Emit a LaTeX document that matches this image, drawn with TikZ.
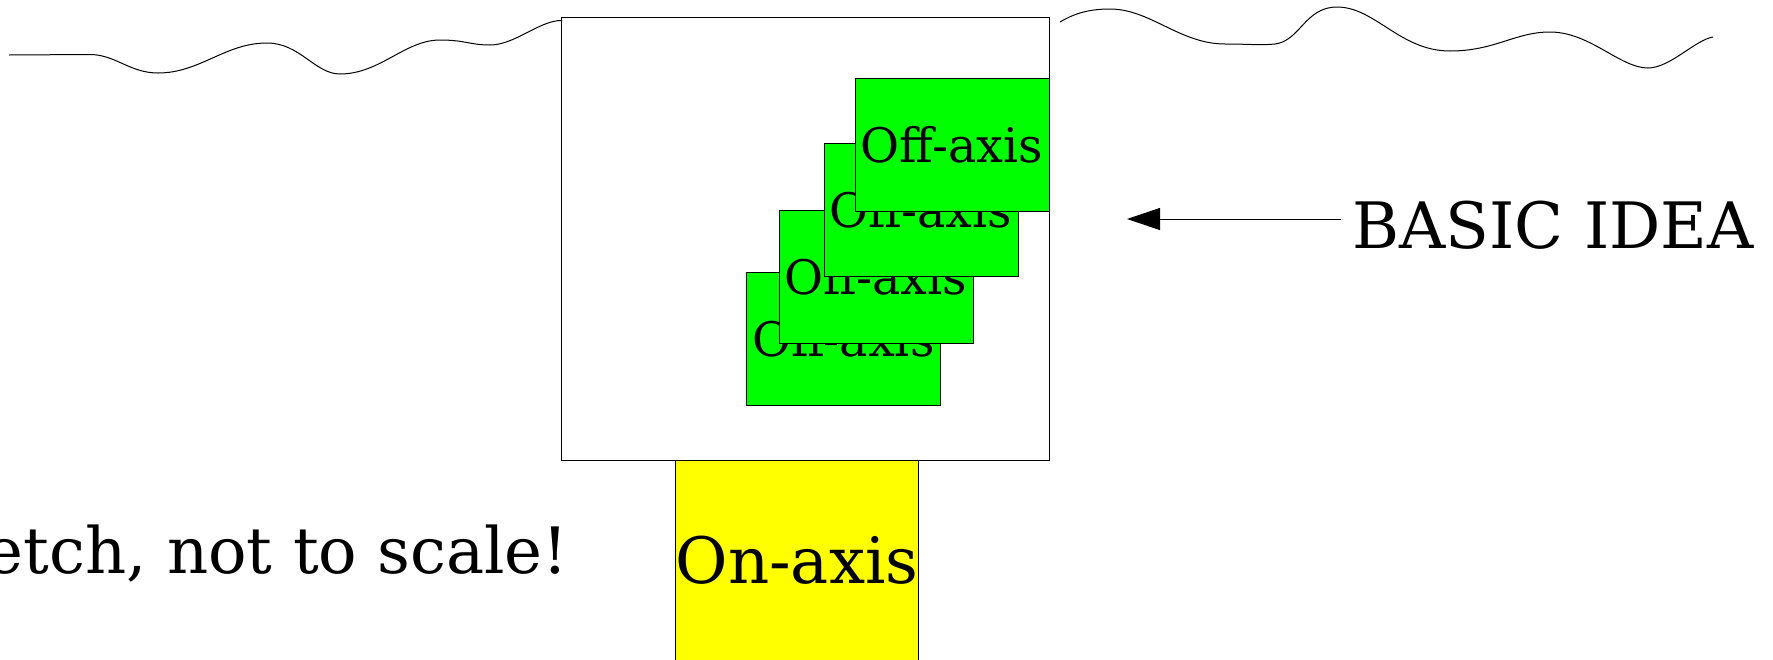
\documentclass[tikz,border=0pt]{standalone}
\usepackage{fontspec}
\setmainfont{DejaVu Serif}
\usetikzlibrary{arrows.meta}
\definecolor{boxgreen}{RGB}{0,255,0}
\definecolor{boxyellow}{RGB}{255,255,0}
\begin{document}
\begin{tikzpicture}[x=0.5pt,y=-0.5pt,
  frame/.style={draw=black, line width=0.5pt},
  greenbox/.style={frame, fill=boxgreen, minimum width=97pt, minimum height=66.5pt, inner sep=0pt,
    font=\fontsize{23.8pt}{28pt}\selectfont},
  bigtext/.style={inner sep=0pt, font=\fontsize{32pt}{38pt}\selectfont},
  wave/.style={draw=black, line width=0.5pt},
  pointer/.style={draw=black, line width=0.5pt, -{Triangle[length=16.5pt,width=11pt]}}]
\useasboundingbox (0,0) rectangle (1773,659);
\fill[white] (0,0) rectangle (1773,659);
\begin{scope}
\clip (0,0) rectangle (1773,659);
% waves
\draw[wave] (9,55) -- (90,54.5)
  .. controls (115,54.5) and (130,73) .. (158,73)
  .. controls (200,73) and (225,43) .. (267,43)
  .. controls (300,43) and (315,74) .. (340,74)
  .. controls (380,74) and (405,40) .. (440,40)
  .. controls (465,40) and (470,45) .. (490,45)
  .. controls (515,45) and (540,20) .. (562,20.5);
\draw[wave] (1060,22)
  .. controls (1075,13) and (1090,9) .. (1110,9)
  .. controls (1150,9) and (1180,44) .. (1225,44)
  .. controls (1250,44) and (1260,45.5) .. (1275,44)
  .. controls (1300,41) and (1305,7) .. (1337,7)
  .. controls (1375,7) and (1400,51) .. (1450,51)
  .. controls (1495,51) and (1515,32) .. (1550,32)
  .. controls (1590,32) and (1620,68) .. (1648,68)
  .. controls (1670,68) and (1695,40) .. (1713,37);
% main box
\node[frame, minimum width=244pt, minimum height=221.5pt, inner sep=0pt] (outer) at (805,238.5) {};
% green boxes
\node[greenbox] (g4) at (843.5,339) {Off-axis};
\node[greenbox] (g3) at (876,277) {Off-axis};
\node[greenbox] (g2) at (921,210) {Off-axis};
\node[greenbox] (g1) at (952,144.5) {Off-axis};
% yellow box
\node[frame, fill=boxyellow, minimum width=121.5pt, minimum height=102pt, inner sep=0pt, anchor=north] (onaxisbox) at (796.5,460) {};
\node[bigtext, anchor=base] (onaxis) at (797,583) {On-axis};
% texts
\node[bigtext, anchor=base east] (sketch) at (569,573) {Sketch, not to scale!};
\node[bigtext, anchor=base west] (basic) at (1352,248) {BASIC IDEA};
\coordinate (tail) at (1341,219);
\coordinate (tip) at (1127,219);
\draw[pointer] (tail) -- (tip);
\end{scope}
\end{tikzpicture}
\end{document}
